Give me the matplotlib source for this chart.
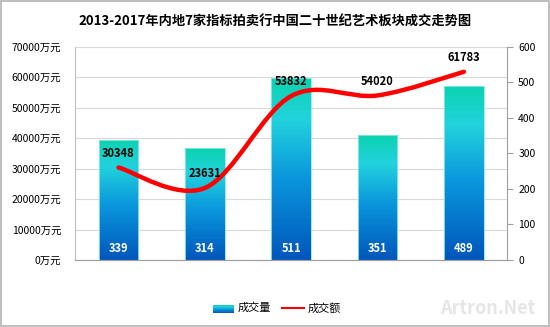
import matplotlib.pyplot as plt
import numpy as np
from matplotlib.colors import LinearSegmentedColormap
from matplotlib.path import Path
from matplotlib.patches import PathPatch, Rectangle

plt.rcParams['font.family'] = ['Noto Sans CJK SC', 'DejaVu Sans']

years = ['2013年', '2014年', '2015年', '2016年', '2017年']
volume = [339, 314, 511, 351, 489]            # 成交量, right axis
amount = [30348, 23631, 53832, 54020, 61783]  # 成交额 (万元), left axis
left_ticks = [0, 10000, 20000, 30000, 40000, 50000, 60000, 70000]
right_ticks = [0, 100, 200, 300, 400, 500, 600]

fig = plt.figure(figsize=(5.5, 3.27), dpi=100)
fig.patch.set_edgecolor('#bfbfbf')
fig.patch.set_linewidth(1.5)
ax = fig.add_axes([0.137, 0.205, 0.785, 0.652])
ax2 = ax.twinx()

x = np.arange(len(years))
w = 0.46
cmap = LinearSegmentedColormap.from_list('bar', [(0, '#0056bb'), (0.45, '#0a96dc'),
                                                 (0.78, '#22d3dd'), (1.0, '#0bd2ae')])
grad = np.linspace(0, 1, 256).reshape(-1, 1)

ax2.set_ylim(0, 600)
ax2.set_xlim(-0.5, len(years) - 0.5)
for xi, v in zip(x, volume):
    rect = Rectangle((xi - w / 2, 0), w, v, facecolor='none', edgecolor='#8fe8f0', lw=0.6, zorder=3)
    ax2.add_patch(rect)
    im = ax2.imshow(grad, cmap=cmap, origin='lower', aspect='auto',
                    extent=(xi - w / 2, xi + w / 2, 0, v), zorder=2)
    im.set_clip_path(rect)
    ax2.text(xi, 14, str(v), ha='center', va='bottom', color='white', fontsize=8,
             fontweight='bold', zorder=5)

# smoothed line (Catmull-Rom style bezier through the data points)
pts = np.column_stack([x, amount]).astype(float)
verts = [pts[0]]
codes = [Path.MOVETO]
for i in range(len(pts) - 1):
    p0 = pts[i - 1] if i > 0 else pts[i]
    p3 = pts[i + 2] if i + 2 < len(pts) else pts[i + 1]
    c1 = pts[i] + (pts[i + 1] - p0) / 6
    c2 = pts[i + 1] - (p3 - pts[i]) / 6
    verts += [c1, c2, pts[i + 1]]
    codes += [Path.CURVE4] * 3

ax.set_ylim(0, 70000)
ax.set_xlim(-0.5, len(years) - 0.5)
line = PathPatch(Path(verts, codes), facecolor='none', edgecolor='#ff0000', lw=3.2,
                 capstyle='round', zorder=4)
ax2.set_zorder(1)
ax.set_zorder(2)
ax.patch.set_visible(False)
ax.add_patch(line)
for xi, a in zip(x, amount):
    ax.text(xi, a + 2600, str(a), ha='center', va='bottom', color='black', fontsize=8,
            fontweight='bold', zorder=5)

ax.set_yticks(left_ticks)
ax.set_yticklabels([f'{t}万元' for t in left_ticks], fontsize=7.5)
ax.tick_params(axis='y', length=0, pad=10)
ax.set_xticks(x)
ax.set_xticklabels(years, fontsize=7.5)
ax.tick_params(axis='x', length=0, pad=9)
ax2.set_yticks(right_ticks)
ax2.set_yticklabels([str(t) for t in right_ticks], fontsize=7.5)
ax2.tick_params(axis='y', length=4, color='#a0a0a0', pad=4)
ax2.set_xticks([])
for t in left_ticks[1:]:
    ax2.axhline(t * 600 / 70000, color='#d9d9d9', lw=0.8, zorder=0)

for a in (ax, ax2):
    a.spines['top'].set_visible(False)
    a.spines['right'].set_visible(False)
    a.spines['left'].set_color('#bfbfbf')
    a.spines['bottom'].set_color('#a0a0a0')
ax2.spines['right'].set_visible(True)
ax2.spines['right'].set_color('#a0a0a0')
ax2.spines['left'].set_visible(False)

fig.text(0.5, 0.935, '2013-2017年内地7家指标拍卖行中国二十世纪艺术板块成交走势图',
         ha='center', va='center', fontsize=9.5, fontweight='bold')

# legend
lax = fig.add_axes([0, 0, 1, 1], zorder=-1)
lax.set_xlim(0, 550)
lax.set_ylim(327, 0)
lax.axis('off')
lax.imshow(np.linspace(0, 1, 50).reshape(-1, 1)[::-1], cmap=cmap, aspect='auto',
           extent=(213, 234, 313, 305))
lax.text(238, 308, '成交量', fontsize=8, va='center', ha='left')
lax.plot([282, 304], [308, 308], color='#ff0000', lw=1.5)
lax.text(308, 308, '成交额', fontsize=8, va='center', ha='left')
lax.text(488, 308, 'Artron.Net', fontsize=13, fontweight='bold', va='center', ha='center',
         color='#e6e6e6')

fig.savefig('out.png', dpi=100, edgecolor=fig.get_edgecolor())
